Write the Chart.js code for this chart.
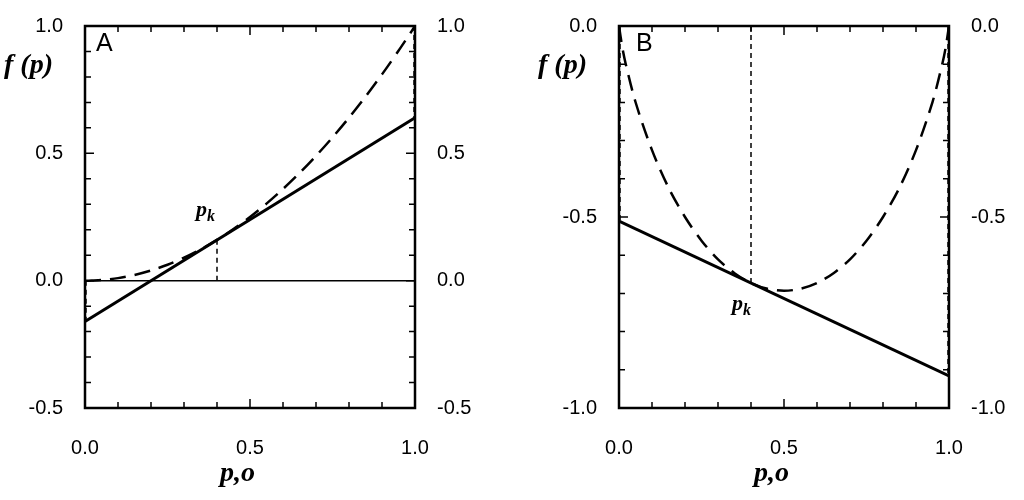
<!DOCTYPE html>
<html><head><meta charset="utf-8">
<script src="https://cdn.jsdelivr.net/npm/chart.js@4"></script>
<style>
body{margin:0;width:1024px;height:500px;background:#fff;position:relative;overflow:hidden}
canvas{position:absolute;top:0}
.t{position:absolute;font-family:"Liberation Serif",serif;font-weight:bold;font-style:italic;color:#000}
.s{position:absolute;font-family:"Liberation Sans",sans-serif;font-size:25px;color:#000}
</style></head><body>
<div style="position:absolute;left:0;top:0;width:512px;height:500px"><canvas id="a"></canvas></div>
<div style="position:absolute;left:512px;top:0;width:512px;height:500px"><canvas id="b"></canvas></div>
<div class="t" style="left:4px;top:48px;font-size:28px">f (p)</div>
<div class="t" style="left:538px;top:48px;font-size:28px">f (p)</div>
<div class="t" style="left:220px;top:456px;font-size:28px">p,o</div>
<div class="t" style="left:754px;top:456px;font-size:28px">p,o</div>
<div class="s" style="left:96px;top:28px">A</div>
<div class="s" style="left:636px;top:28px">B</div>
<div class="t" style="left:196px;top:196px;font-size:22px">p<sub style="font-size:16px">k</sub></div>
<div class="t" style="left:732px;top:290px;font-size:22px">p<sub style="font-size:16px">k</sub></div>
<script>
const pGrid=[0,0.01,0.02,0.05,0.1,0.15,0.2,0.25,0.3,0.35,0.4,0.45,0.5,0.55,0.6,0.65,0.7,0.75,0.8,0.85,0.9,0.95,0.98,0.99,1];
const curveA=[0,0.0001,0.0004,0.0025,0.01,0.0225,0.04,0.0625,0.09,0.1225,0.16,0.2025,0.25,0.3025,0.36,0.4225,0.49,0.5625,0.64,0.7225,0.81,0.9025,0.9604,0.9801,1];
const curveB=[0,-0.056,-0.098,-0.199,-0.325,-0.423,-0.500,-0.562,-0.611,-0.647,-0.673,-0.688,-0.693,-0.688,-0.673,-0.647,-0.611,-0.562,-0.500,-0.423,-0.325,-0.199,-0.098,-0.056,0];
const pk=0.4;
const tangentA=[-0.16,0.64];
const tangentB=[-0.511,-0.916];
const fkA=0.16, fkB=-0.673;
const edgeA=[0,1], edgeB=[0,0];

function pts(xs,ys){return xs.map((x,i)=>({x:x,y:ys[i]}));}
const ticksPlugin={id:'inTicks',afterDraw(c){
 const ctx=c.ctx,a=c.chartArea,xs=c.scales.x,ys=c.scales.y;
 ctx.save();ctx.strokeStyle='#000';ctx.lineWidth=1.5;ctx.beginPath();
 for(let i=0;i<=10;i++){const v=i/10,px=xs.getPixelForValue(v),L=(i%5==0)?9:6;
  ctx.moveTo(px,a.bottom);ctx.lineTo(px,a.bottom-L);ctx.moveTo(px,a.top);ctx.lineTo(px,a.top+L);}
 for(let v=ys.min;v<=ys.max+1e-9;v+=0.1){const py=ys.getPixelForValue(v),L=(Math.abs(v*2-Math.round(v*2))<1e-6)?9:6;
  ctx.moveTo(a.left,py);ctx.lineTo(a.left+L,py);ctx.moveTo(a.right,py);ctx.lineTo(a.right-L,py);}
 ctx.stroke();ctx.lineWidth=2.5;ctx.strokeRect(a.left,a.top,a.right-a.left,a.bottom-a.top);ctx.restore();}};

function make(id,curve,tang,fk,edge,ymin,ymax,lw,rw,zero){
 const ds=[
  {data:pts(pGrid,curve),borderColor:'#000',borderWidth:2.5,borderDash:[16,9],pointRadius:0,tension:0.3},
  {data:pts([0,1],tang),borderColor:'#000',borderWidth:3,pointRadius:0},
  {data:pts([0.003,0.003],[edge[0],tang[0]]),borderColor:'#000',borderWidth:1.5,borderDash:[5,4],pointRadius:0},
  {data:pts([pk,pk],[0,fk]),borderColor:'#000',borderWidth:1.5,borderDash:[5,4],pointRadius:0},
  {data:pts([0.997,0.997],[edge[1],tang[1]]),borderColor:'#000',borderWidth:1.5,borderDash:[5,4],pointRadius:0}];
 if(zero) ds.push({data:pts([0,1],[0,0]),borderColor:'#000',borderWidth:1.5,pointRadius:0});
 const f={family:'Liberation Sans',size:20};
 const yax=(pos,w,pad)=>({type:'linear',position:pos,min:ymin,max:ymax,grid:{display:false},border:{display:false},
   ticks:{stepSize:0.5,font:f,color:'#000',padding:pad,callback:v=>v.toFixed(1)},afterFit(s){s.width=w;}});
 new Chart(document.getElementById(id),{type:'line',data:{datasets:ds},plugins:[ticksPlugin],
  options:{responsive:true,maintainAspectRatio:false,animation:false,layout:{padding:{top:14,right:0,left:0,bottom:0}},
   plugins:{legend:{display:false},tooltip:{enabled:false}},
   scales:{x:{type:'linear',min:0,max:1,grid:{display:false},border:{display:false},
     ticks:{stepSize:0.5,font:f,color:'#000',padding:20,callback:v=>v.toFixed(1)},afterFit(s){s.height=92;}},
    y:yax('left',lw,14),y2:yax('right',rw,14)}}});
}
make('a',curveA,tangentA,fkA,edgeA,-0.5,1,85,97,true);
make('b',curveB,tangentB,fkB,edgeB,-1,0,107,75,false);
</script></body></html>
